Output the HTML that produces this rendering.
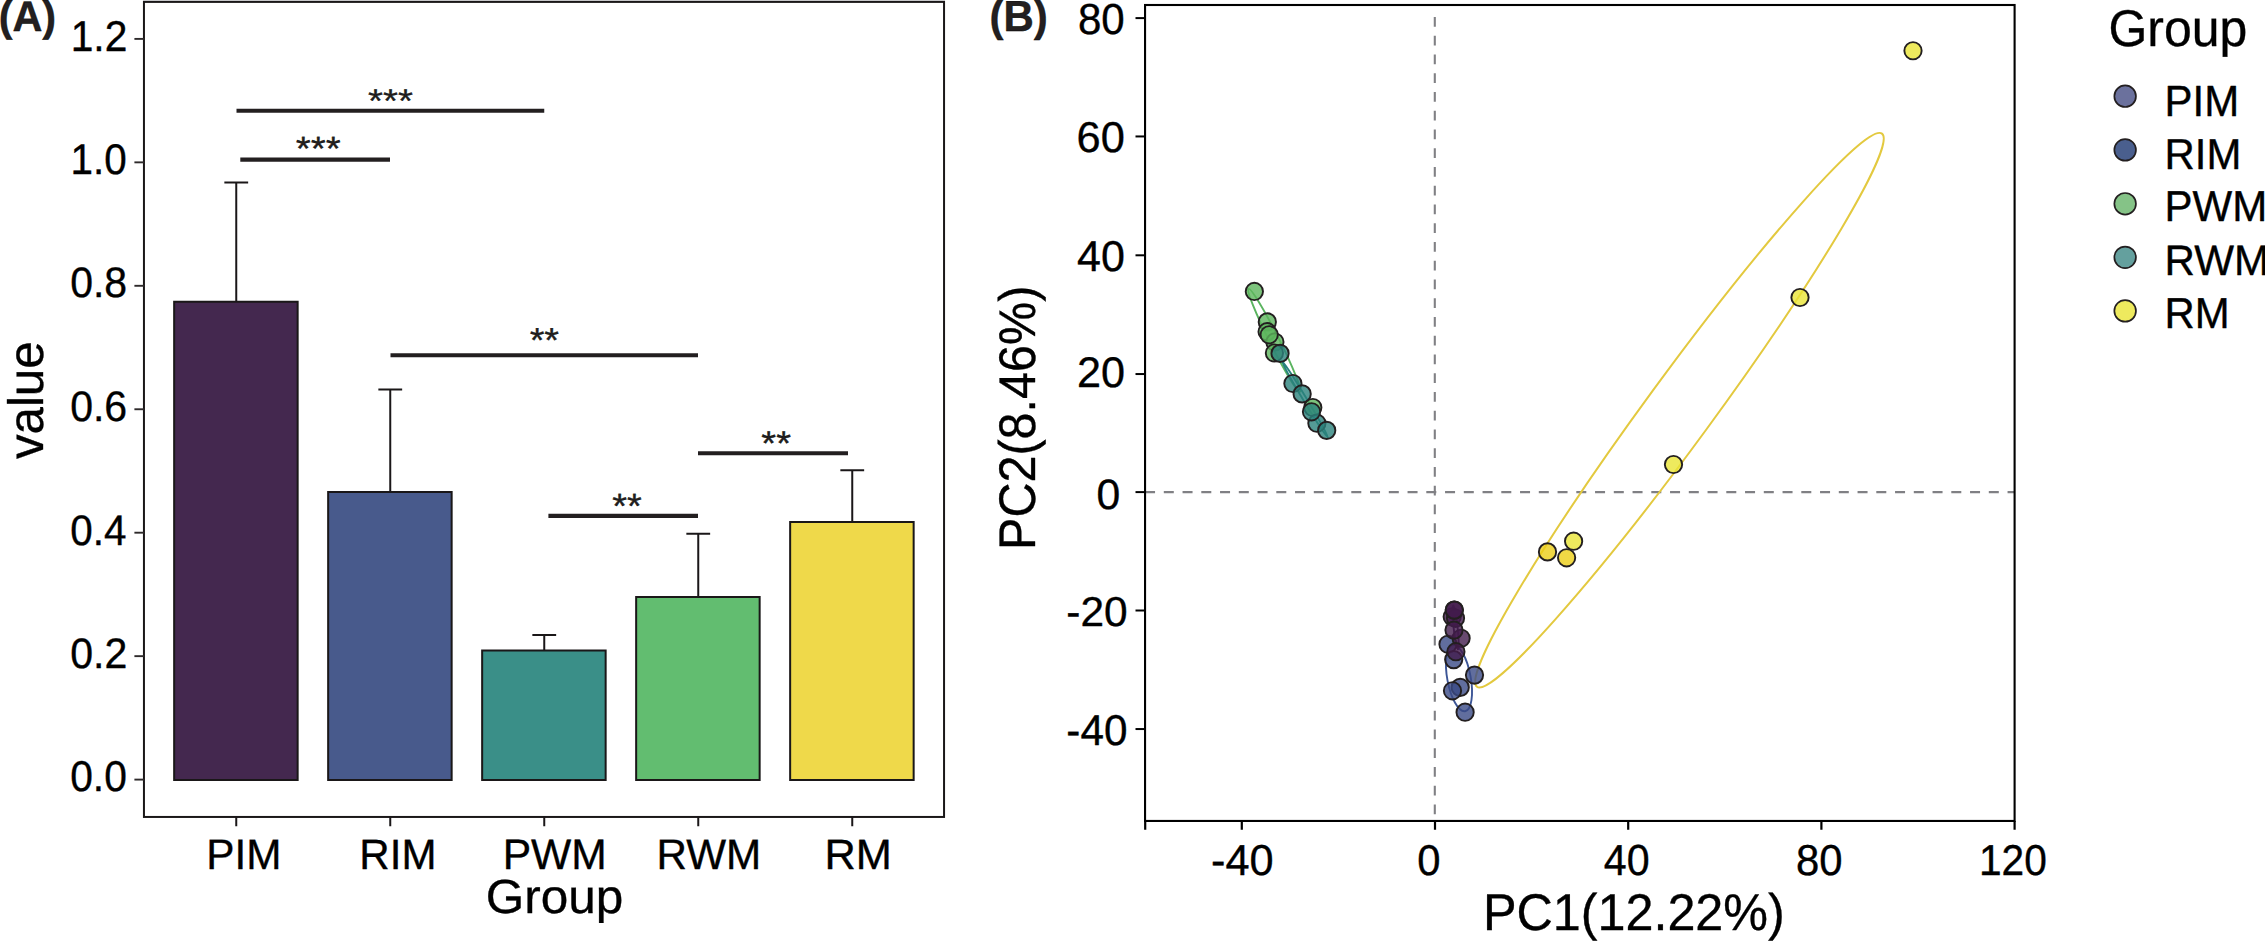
<!DOCTYPE html>
<html lang="en"><head><meta charset="utf-8"><title>Figure</title>
<style>
html,body{margin:0;padding:0;background:#fff;}
svg{display:block;}
text{font-family:"Liberation Sans",sans-serif;stroke-linejoin:round;text-rendering:geometricPrecision;}
.t text{stroke:#000;stroke-width:0.35px;}
</style></head><body>
<svg width="2265" height="941" viewBox="0 0 2265 941">
<rect x="0" y="0" width="2265" height="941" fill="#ffffff"/>
<g id="panelA" class="t">
<rect x="143" y="0" width="802" height="0.95" fill="#dcdcde"/>
<line x1="236.25" y1="301.75" x2="236.25" y2="182.5" stroke="#1a1718" stroke-width="2.0"/>
<line x1="224.35" y1="182.5" x2="248.15" y2="182.5" stroke="#1a1718" stroke-width="2.0"/>
<rect x="174.15" y="301.75" width="123.5" height="478.25" fill="#44284f" stroke="#1a1718" stroke-width="2.0"/>
<line x1="390.25" y1="492.0" x2="390.25" y2="389.5" stroke="#1a1718" stroke-width="2.0"/>
<line x1="378.35" y1="389.5" x2="402.15" y2="389.5" stroke="#1a1718" stroke-width="2.0"/>
<rect x="328.15" y="492.0" width="123.5" height="288.0" fill="#485a8c" stroke="#1a1718" stroke-width="2.0"/>
<line x1="544.25" y1="650.5" x2="544.25" y2="635.0" stroke="#1a1718" stroke-width="2.0"/>
<line x1="532.35" y1="635.0" x2="556.15" y2="635.0" stroke="#1a1718" stroke-width="2.0"/>
<rect x="482.15" y="650.5" width="123.5" height="129.5" fill="#3a8f88" stroke="#1a1718" stroke-width="2.0"/>
<line x1="698.25" y1="597.0" x2="698.25" y2="533.75" stroke="#1a1718" stroke-width="2.0"/>
<line x1="686.35" y1="533.75" x2="710.15" y2="533.75" stroke="#1a1718" stroke-width="2.0"/>
<rect x="636.15" y="597.0" width="123.5" height="183.0" fill="#62bd70" stroke="#1a1718" stroke-width="2.0"/>
<line x1="852.25" y1="522.0" x2="852.25" y2="470.25" stroke="#1a1718" stroke-width="2.0"/>
<line x1="840.35" y1="470.25" x2="864.15" y2="470.25" stroke="#1a1718" stroke-width="2.0"/>
<rect x="790.15" y="522.0" width="123.5" height="258.0" fill="#efd94a" stroke="#1a1718" stroke-width="2.0"/>
<rect x="143.95" y="1.9" width="800.0999999999999" height="815.0500000000001" fill="none" stroke="#1a1718" stroke-width="2.0"/>
<line x1="134.4" y1="779.60" x2="143.95" y2="779.60" stroke="#2e2a2b" stroke-width="1.9"/>
<text transform="translate(70.19,791.35) scale(1,1.0568)" font-size="40.76" fill="#000">0.0</text>
<line x1="134.4" y1="656.15" x2="143.95" y2="656.15" stroke="#2e2a2b" stroke-width="1.9"/>
<text transform="translate(70.13,667.59) scale(1,1.0404)" font-size="41.10" fill="#000">0.2</text>
<line x1="134.4" y1="532.70" x2="143.95" y2="532.70" stroke="#2e2a2b" stroke-width="1.9"/>
<text transform="translate(70.24,544.72) scale(1,1.0582)" font-size="40.41" fill="#000">0.4</text>
<line x1="134.4" y1="409.25" x2="143.95" y2="409.25" stroke="#2e2a2b" stroke-width="1.9"/>
<text transform="translate(70.17,420.96) scale(1,1.0425)" font-size="41.01" fill="#000">0.6</text>
<line x1="134.4" y1="285.80" x2="143.95" y2="285.80" stroke="#2e2a2b" stroke-width="1.9"/>
<text transform="translate(70.16,297.20) scale(1,1.0418)" font-size="40.98" fill="#000">0.8</text>
<line x1="134.4" y1="162.35" x2="143.95" y2="162.35" stroke="#2e2a2b" stroke-width="1.9"/>
<text transform="translate(70.62,174.32) scale(1,1.0600)" font-size="40.43" fill="#000">1.0</text>
<line x1="134.4" y1="38.90" x2="143.95" y2="38.90" stroke="#2e2a2b" stroke-width="1.9"/>
<text transform="translate(70.69,51.06) scale(1,1.0587)" font-size="40.76" fill="#000">1.2</text>
<line x1="236.25" y1="816.95" x2="236.25" y2="826.25" stroke="#1a1718" stroke-width="2.0"/>
<text transform="translate(206.30,869.25) scale(1,1.0081)" font-size="42.32" fill="#000">PIM</text>
<line x1="390.25" y1="816.95" x2="390.25" y2="826.25" stroke="#1a1718" stroke-width="2.0"/>
<text transform="translate(359.35,869.14) scale(1,1.0077)" font-size="42.08" fill="#000">RIM</text>
<line x1="544.25" y1="816.95" x2="544.25" y2="826.25" stroke="#1a1718" stroke-width="2.0"/>
<text transform="translate(502.70,869.25) scale(1,0.9990)" font-size="42.59" fill="#000">PWM</text>
<line x1="698.25" y1="816.95" x2="698.25" y2="826.25" stroke="#1a1718" stroke-width="2.0"/>
<text transform="translate(656.53,869.14) scale(1,1.0116)" font-size="42.20" fill="#000">RWM</text>
<line x1="852.25" y1="816.95" x2="852.25" y2="826.25" stroke="#1a1718" stroke-width="2.0"/>
<text transform="translate(824.50,869.14) scale(1,0.9788)" font-size="43.34" fill="#000">RM</text>
<text transform="translate(485.80,912.94) scale(1,0.9680)" font-size="49.49" fill="#000">Group</text>
<text transform="translate(43.42,459.10) rotate(-90) scale(1,1.0087)" font-size="49.24" fill="#000">value</text>
<line x1="236.5" y1="110.75" x2="544.25" y2="110.75" stroke="#231f20" stroke-width="4.1"/>
<text transform="translate(368.09,111.93) scale(1,0.8575)" font-size="38.44" fill="#231f20">***</text>
<line x1="240.3" y1="159.6" x2="390.0" y2="159.6" stroke="#231f20" stroke-width="4.1"/>
<text transform="translate(295.72,160.31) scale(1,0.8726)" font-size="38.52" fill="#231f20">***</text>
<line x1="390.5" y1="355.2" x2="698.0" y2="355.2" stroke="#231f20" stroke-width="4.1"/>
<text transform="translate(529.63,351.57) scale(1,0.9119)" font-size="37.89" fill="#231f20">**</text>
<line x1="698.0" y1="453.3" x2="848.0" y2="453.3" stroke="#231f20" stroke-width="4.1"/>
<text transform="translate(761.37,454.68) scale(1,0.9066)" font-size="37.97" fill="#231f20">**</text>
<line x1="548.4" y1="515.9" x2="698.0" y2="515.9" stroke="#231f20" stroke-width="4.1"/>
<text transform="translate(612.18,517.51) scale(1,0.9272)" font-size="37.86" fill="#231f20">**</text>
<text transform="translate(-1.36,30.52) scale(1,1.0311)" font-size="41.43" font-weight="bold" fill="#231f20">(A)</text>
</g>
<g id="panelB" class="t">
<line x1="1145.05" y1="492.1" x2="2014.6" y2="492.1" stroke="#808084" stroke-width="2.1" stroke-dasharray="10 8.75"/>
<line x1="1434.8" y1="17" x2="1434.8" y2="815" stroke="#808084" stroke-width="2.1" stroke-dasharray="9.75 9"/>
<ellipse cx="1679.46" cy="410.2" rx="342.8" ry="33.06" transform="rotate(-53.79 1679.46 410.2)" fill="none" stroke="#e3c93f" stroke-width="2.0"/>
<ellipse cx="1274.3" cy="340.3" rx="57.5" ry="4.8" transform="rotate(63.4 1274.3 340.3)" fill="none" stroke="#5ab45f" stroke-width="1.9"/>
<ellipse cx="1305.0" cy="399.4" rx="44.7" ry="1.8" transform="rotate(59.0 1305.0 399.4)" fill="none" stroke="#28827d" stroke-width="1.9"/>
<ellipse cx="1459.0" cy="678.2" rx="33.6" ry="11.7" transform="rotate(79.5 1459.0 678.2)" fill="none" stroke="#3c5596" stroke-width="1.9"/>
<ellipse cx="1455.6" cy="627.5" rx="22.1" ry="2.0" transform="rotate(83.9 1455.6 627.5)" fill="none" stroke="#3c1e4b" stroke-width="1.9"/>
<circle cx="1913" cy="50.75" r="8.65" fill="#eae536" fill-opacity="0.8" stroke="#231f20" stroke-width="1.9"/>
<circle cx="1800" cy="297.5" r="8.65" fill="#eae536" fill-opacity="0.8" stroke="#231f20" stroke-width="1.9"/>
<circle cx="1673.5" cy="464.5" r="8.65" fill="#eae536" fill-opacity="0.8" stroke="#231f20" stroke-width="1.9"/>
<circle cx="1547.5" cy="551.9" r="8.65" fill="#ecce16" fill-opacity="0.8" stroke="#231f20" stroke-width="1.9"/>
<circle cx="1566.6" cy="557.8" r="8.65" fill="#ecce16" fill-opacity="0.8" stroke="#231f20" stroke-width="1.9"/>
<circle cx="1573.6" cy="541.2" r="8.65" fill="#eae536" fill-opacity="0.8" stroke="#231f20" stroke-width="1.9"/>
<circle cx="1254.35" cy="291.46" r="8.65" fill="#5db55d" fill-opacity="0.8" stroke="#231f20" stroke-width="1.9"/>
<circle cx="1267.3" cy="321.9" r="8.65" fill="#5db55d" fill-opacity="0.8" stroke="#231f20" stroke-width="1.9"/>
<circle cx="1267.1" cy="331.7" r="8.65" fill="#5db55d" fill-opacity="0.8" stroke="#231f20" stroke-width="1.9"/>
<circle cx="1274.9" cy="342.0" r="8.65" fill="#5db55d" fill-opacity="0.8" stroke="#231f20" stroke-width="1.9"/>
<circle cx="1274.4" cy="353.0" r="8.65" fill="#5db55d" fill-opacity="0.8" stroke="#231f20" stroke-width="1.9"/>
<circle cx="1269.2" cy="334.8" r="8.65" fill="#5db55d" fill-opacity="0.8" stroke="#231f20" stroke-width="1.9"/>
<circle cx="1280.05" cy="353.4" r="8.65" fill="#2a827c" fill-opacity="0.8" stroke="#231f20" stroke-width="1.9"/>
<circle cx="1292.9" cy="383.5" r="8.65" fill="#2a827c" fill-opacity="0.8" stroke="#231f20" stroke-width="1.9"/>
<circle cx="1302.15" cy="393.9" r="8.65" fill="#2a827c" fill-opacity="0.8" stroke="#231f20" stroke-width="1.9"/>
<circle cx="1312.8" cy="407.5" r="8.65" fill="#5db55d" fill-opacity="0.8" stroke="#231f20" stroke-width="1.9"/>
<circle cx="1316.9" cy="423.2" r="8.65" fill="#2a827c" fill-opacity="0.8" stroke="#231f20" stroke-width="1.9"/>
<circle cx="1311.5" cy="411.8" r="8.65" fill="#2a827c" fill-opacity="0.8" stroke="#231f20" stroke-width="1.9"/>
<circle cx="1326.7" cy="430.4" r="8.65" fill="#2a827c" fill-opacity="0.8" stroke="#231f20" stroke-width="1.9"/>
<circle cx="1448.0" cy="644.3" r="8.65" fill="#3a4a86" fill-opacity="0.8" stroke="#231f20" stroke-width="1.9"/>
<circle cx="1453.7" cy="659.6" r="8.65" fill="#3a4a86" fill-opacity="0.8" stroke="#231f20" stroke-width="1.9"/>
<circle cx="1452.2" cy="616.8" r="8.65" fill="#421c4c" fill-opacity="0.8" stroke="#231f20" stroke-width="1.9"/>
<circle cx="1455.5" cy="618.3" r="8.65" fill="#421c4c" fill-opacity="0.8" stroke="#231f20" stroke-width="1.9"/>
<circle cx="1461.1" cy="638.3" r="8.65" fill="#421c4c" fill-opacity="0.8" stroke="#231f20" stroke-width="1.9"/>
<circle cx="1454.0" cy="630.1" r="8.65" fill="#421c4c" fill-opacity="0.8" stroke="#231f20" stroke-width="1.9"/>
<circle cx="1455.9" cy="651.7" r="8.65" fill="#421c4c" fill-opacity="0.8" stroke="#231f20" stroke-width="1.9"/>
<circle cx="1454.3" cy="610.1" r="8.65" fill="#421c4c" fill-opacity="0.8" stroke="#231f20" stroke-width="1.9"/>
<circle cx="1454.3" cy="610.1" r="8.65" fill="#421c4c" fill-opacity="0.8" stroke="#231f20" stroke-width="1.9"/>
<circle cx="1474.5" cy="675.1" r="8.65" fill="#3a4a86" fill-opacity="0.8" stroke="#231f20" stroke-width="1.9"/>
<circle cx="1460.2" cy="687.4" r="8.65" fill="#3a4a86" fill-opacity="0.8" stroke="#231f20" stroke-width="1.9"/>
<circle cx="1452.5" cy="690.8" r="8.65" fill="#3a4a86" fill-opacity="0.8" stroke="#231f20" stroke-width="1.9"/>
<circle cx="1465.1" cy="712.2" r="8.65" fill="#3a4a86" fill-opacity="0.8" stroke="#231f20" stroke-width="1.9"/>
<rect x="1145.05" y="5.0" width="869.55" height="815.95" fill="none" stroke="#000" stroke-width="2.1"/>
<line x1="1135.5" y1="729.05" x2="1145.05" y2="729.05" stroke="#000" stroke-width="2.0"/>
<text transform="translate(1066.34,744.94) scale(1,1.0207)" font-size="42.25" fill="#000">-40</text>
<line x1="1135.5" y1="610.50" x2="1145.05" y2="610.50" stroke="#000" stroke-width="2.0"/>
<text transform="translate(1066.32,626.03) scale(1,0.9829)" font-size="42.46" fill="#000">-20</text>
<line x1="1135.5" y1="492.10" x2="1145.05" y2="492.10" stroke="#000" stroke-width="2.0"/>
<text transform="translate(1096.49,509.01) scale(1,0.9946)" font-size="42.73" fill="#000">0</text>
<line x1="1135.5" y1="374.05" x2="1145.05" y2="374.05" stroke="#000" stroke-width="2.0"/>
<text transform="translate(1076.94,387.21) scale(1,0.9921)" font-size="43.21" fill="#000">20</text>
<line x1="1135.5" y1="255.30" x2="1145.05" y2="255.30" stroke="#000" stroke-width="2.0"/>
<text transform="translate(1077.01,270.51) scale(1,1.0029)" font-size="43.01" fill="#000">40</text>
<line x1="1135.5" y1="136.45" x2="1145.05" y2="136.45" stroke="#000" stroke-width="2.0"/>
<text transform="translate(1076.60,151.59) scale(1,0.9892)" font-size="43.39" fill="#000">60</text>
<line x1="1135.5" y1="18.10" x2="1145.05" y2="18.10" stroke="#000" stroke-width="2.0"/>
<text transform="translate(1077.89,33.97) scale(1,1.0333)" font-size="42.10" fill="#000">80</text>
<line x1="1145.20" y1="820.95" x2="1145.20" y2="829.75" stroke="#000" stroke-width="2.2"/>
<line x1="1241.80" y1="820.95" x2="1241.80" y2="829.75" stroke="#000" stroke-width="2.2"/>
<text transform="translate(1211.10,874.76) scale(1,0.9984)" font-size="43.30" fill="#000">-40</text>
<line x1="1435.00" y1="820.95" x2="1435.00" y2="829.75" stroke="#000" stroke-width="2.2"/>
<text transform="translate(1417.36,874.79) scale(1,1.0306)" font-size="41.80" fill="#000">0</text>
<line x1="1628.20" y1="820.95" x2="1628.20" y2="829.75" stroke="#000" stroke-width="2.2"/>
<text transform="translate(1603.82,874.79) scale(1,1.0516)" font-size="41.18" fill="#000">40</text>
<line x1="1821.40" y1="820.95" x2="1821.40" y2="829.75" stroke="#000" stroke-width="2.2"/>
<text transform="translate(1795.92,874.77) scale(1,1.0323)" font-size="41.85" fill="#000">80</text>
<line x1="2014.60" y1="820.95" x2="2014.60" y2="829.75" stroke="#000" stroke-width="2.2"/>
<text transform="translate(1978.98,874.77) scale(1,1.0627)" font-size="40.69" fill="#000">120</text>
<text transform="translate(1482.89,929.76) scale(1,1.0259)" font-size="50.30" fill="#000">PC1(12.22%)</text>
<text transform="translate(1035.46,550.00) rotate(-90) scale(1,1.0599)" font-size="48.55" fill="#000">PC2(8.46%)</text>
<text transform="translate(989.55,31.15) scale(1,1.0358)" font-size="42.01" font-weight="bold" fill="#231f20">(B)</text>
<text transform="translate(2108.45,46.08) scale(1,1.0360)" font-size="49.93" fill="#000">Group</text>
<circle cx="2125.15" cy="96.2" r="10.8" fill="#6b719d" stroke="#231f20" stroke-width="1.7"/>
<text transform="translate(2164.54,115.89) scale(1,1.0373)" font-size="41.98" fill="#000">PIM</text>
<circle cx="2125.15" cy="149.9" r="10.8" fill="#4a5f8e" stroke="#231f20" stroke-width="1.7"/>
<text transform="translate(2164.59,168.79) scale(1,1.0353)" font-size="41.92" fill="#000">RIM</text>
<circle cx="2125.15" cy="203.8" r="10.8" fill="#85c387" stroke="#231f20" stroke-width="1.7"/>
<text transform="translate(2164.57,221.32) scale(1,1.0275)" font-size="42.03" fill="#000">PWM</text>
<circle cx="2125.15" cy="257.35" r="10.8" fill="#64a09e" stroke="#231f20" stroke-width="1.7"/>
<text transform="translate(2164.53,274.96) scale(1,1.0067)" font-size="42.15" fill="#000">RWM</text>
<circle cx="2125.15" cy="310.9" r="10.8" fill="#eeea5e" stroke="#231f20" stroke-width="1.7"/>
<text transform="translate(2164.59,328.14) scale(1,1.0316)" font-size="41.89" fill="#000">RM</text>
</g>
</svg></body></html>
